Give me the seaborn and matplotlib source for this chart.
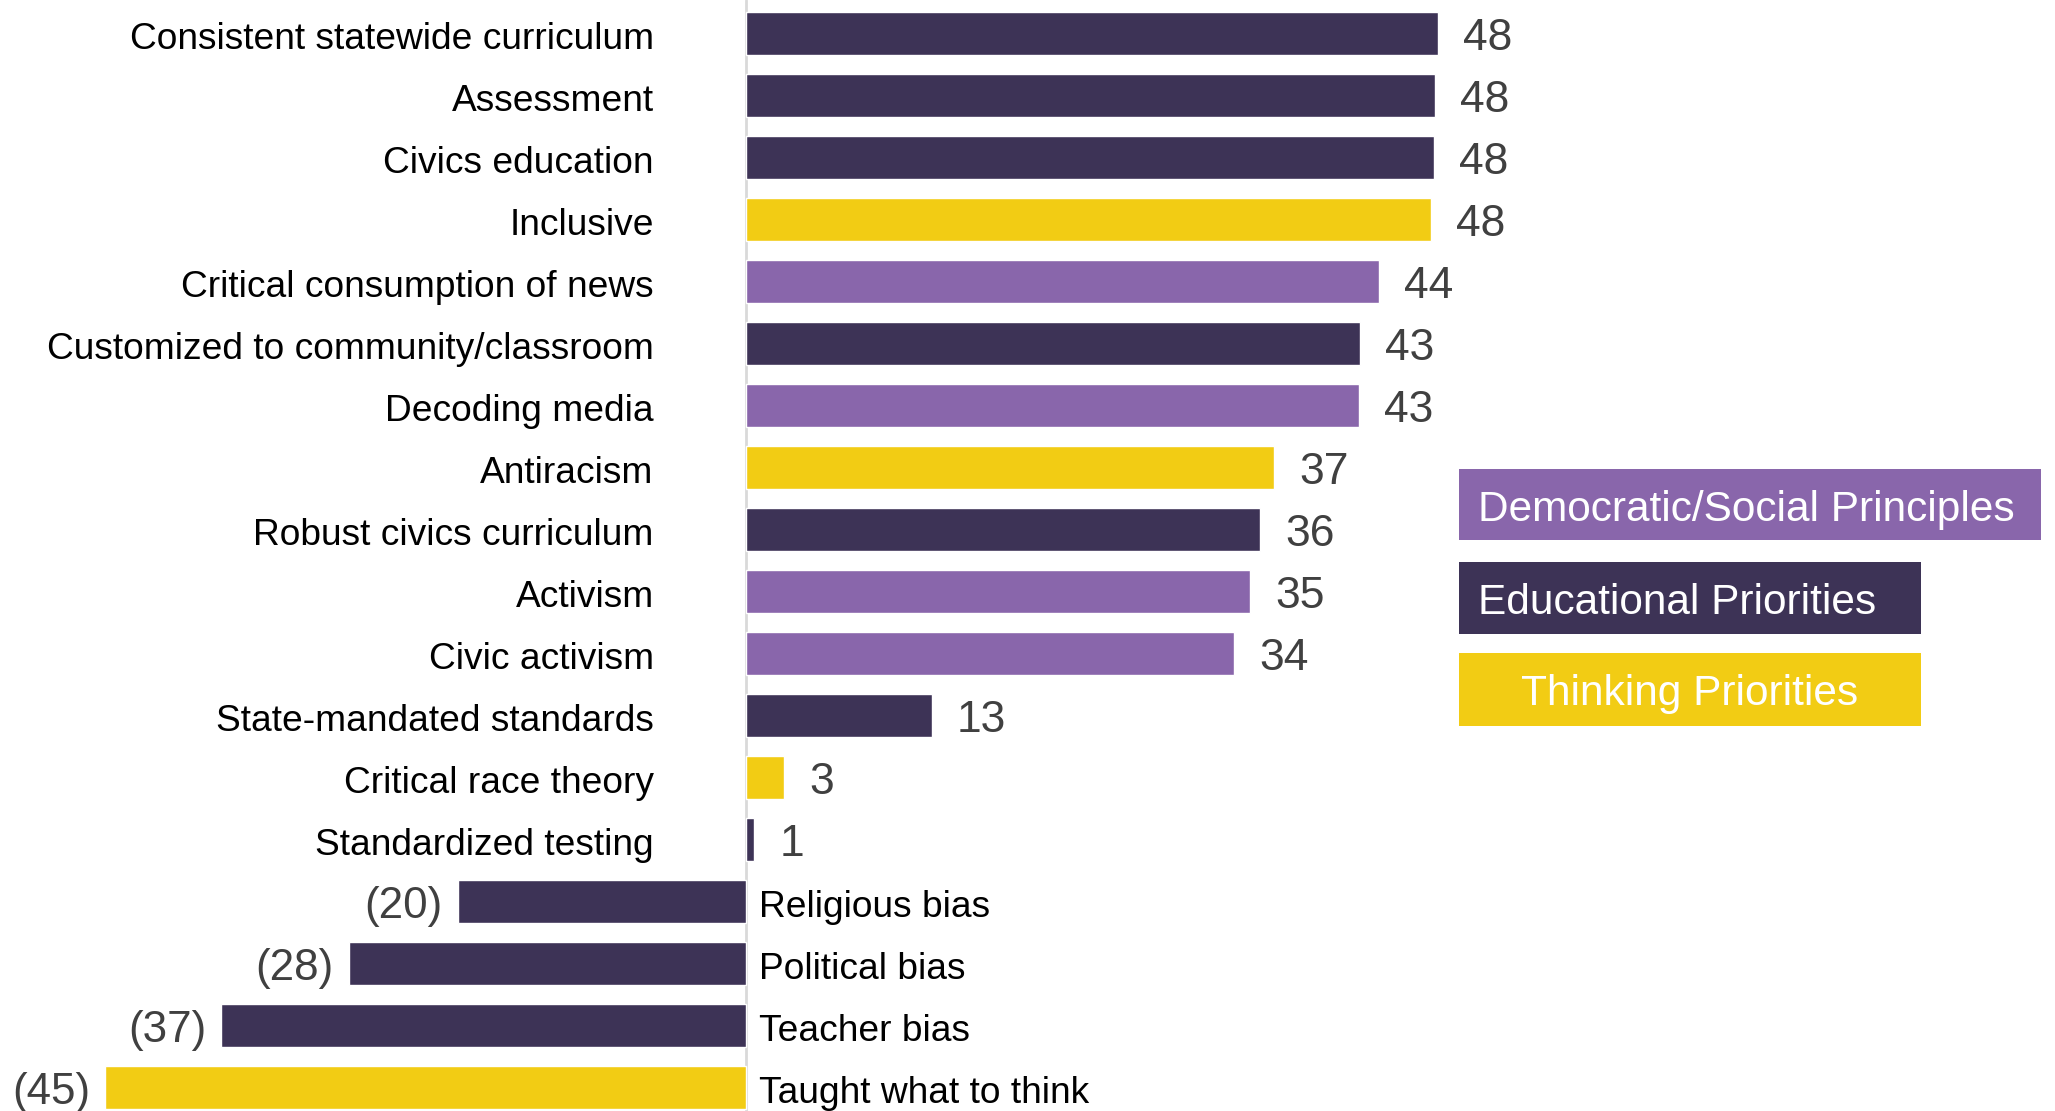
import matplotlib
matplotlib.use("Agg")
import matplotlib.pyplot as plt
from matplotlib.patches import Rectangle
import seaborn as sns
import pandas as pd

# Survey items, their net scores and the priority group each belongs to
items = [
    "Consistent statewide curriculum", "Assessment", "Civics education", "Inclusive",
    "Critical consumption of news", "Customized to community/classroom", "Decoding media",
    "Antiracism", "Robust civics curriculum", "Activism", "Civic activism",
    "State-mandated standards", "Critical race theory", "Standardized testing",
    "Religious bias", "Political bias", "Teacher bias", "Taught what to think",
]
scores = [48.3, 48.1, 48.0, 47.8, 44.2, 42.9, 42.8, 36.9, 35.9, 35.2, 34.1,
          13.0, 2.7, 0.6, -20.1, -27.7, -36.6, -44.7]
groups = ["Educational", "Educational", "Educational", "Thinking",
          "Democratic", "Educational", "Democratic", "Thinking",
          "Educational", "Democratic", "Democratic", "Educational",
          "Thinking", "Educational", "Educational", "Educational",
          "Educational", "Thinking"]

group_names = ["Democratic", "Educational", "Thinking"]
legend_labels = ["Democratic/Social Principles", "Educational Priorities", "Thinking Priorities"]
group_colors = {"Democratic": "#8966AB", "Educational": "#3D3356", "Thinking": "#F2CC14"}

df = pd.DataFrame({"item": items, "score": scores, "group": groups})

sns.set_theme(style="white")
plt.rcParams["font.family"] = ["Liberation Sans", "DejaVu Sans"]

W, H, DPI = 2055, 1111, 100
fig = plt.figure(figsize=(W / DPI, H / DPI), dpi=DPI)
ax = fig.add_axes([0, 0, 1, 1])

sns.barplot(data=df, x="score", y="item", hue="group", palette=group_colors,
            dodge=False, width=0.69, orient="h", legend=False, ax=ax,
            saturation=1)

ax.set_xlim(-52.04, 91.37)
ax.set_ylim(17.38, -0.54)
for s in ax.spines.values():
    s.set_visible(False)
ax.set_xticks([])
ax.set_yticks([])
ax.set_xlabel("")
ax.set_ylabel("")

# zero line
ax.axvline(0, color="#D9D9D9", lw=2, zorder=0)

px = 72 / DPI  # points per pixel
value_color = "#404040"
for i, (name, v) in enumerate(zip(items, scores)):
    n = int(round(abs(v)))
    if v >= 0:
        ax.annotate(f"{n}", xy=(v, i), xytext=(25 * px, -5 * px), textcoords="offset points",
                    ha="left", va="center", fontsize=32, color=value_color)
        ax.annotate(name, xy=(0, i), xytext=(-92 * px, -6 * px), textcoords="offset points",
                    ha="right", va="center", fontsize=26.7, color="black")
    else:
        ax.annotate(f"({n})", xy=(v, i), xytext=(-15 * px, -5 * px), textcoords="offset points",
                    ha="right", va="center", fontsize=31.7, color=value_color)
        ax.annotate(name, xy=(0, i), xytext=(13 * px, -6 * px), textcoords="offset points",
                    ha="left", va="center", fontsize=26.7, color="black")

# group key as coloured boxes with white text
boxes = [
    (1459, 469, 582, 71, "left"),
    (1459, 562, 462, 72, "left"),
    (1459, 653, 462, 73, "center"),
]
for g, lab, (x0, y0, w, h, align) in zip(group_names, legend_labels, boxes):
    fig.patches.append(Rectangle((x0 / W, 1 - (y0 + h) / H), w / W, h / H,
                                 transform=fig.transFigure, facecolor=group_colors[g],
                                 edgecolor="none"))
    yc = 1 - (y0 + h / 2 + 5) / H
    if align == "left":
        fig.text((x0 + 19) / W, yc, lab, ha="left", va="center", fontsize=30.5, color="white")
    else:
        fig.text((x0 + w / 2) / W, yc, lab, ha="center", va="center", fontsize=30.5, color="white")

fig.savefig("out.png", dpi=DPI)
